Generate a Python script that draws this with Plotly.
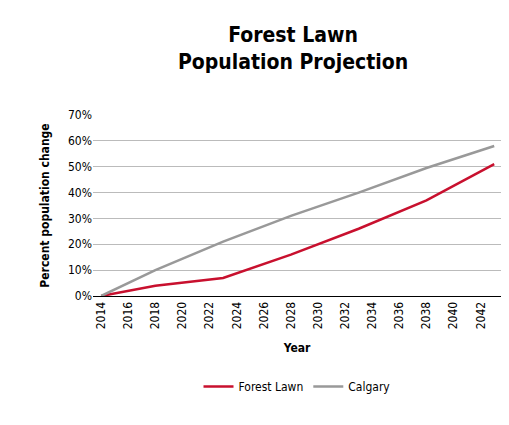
import plotly.graph_objects as go

years = [2014, 2018, 2023, 2028, 2033, 2038, 2043]
forest_lawn = [0.0, 0.04, 0.07, 0.16, 0.26, 0.37, 0.51]
calgary = [0.0, 0.10, 0.21, 0.31, 0.40, 0.495, 0.58]
tick_years = list(range(2014, 2043, 2))

fig = go.Figure()
fig.add_trace(go.Scatter(x=years, y=forest_lawn, name="Forest Lawn", mode="lines",
                         line=dict(color="#c8102e", width=2.5)))
fig.add_trace(go.Scatter(x=years, y=calgary, name="Calgary", mode="lines",
                         line=dict(color="#999999", width=2.5)))

fig.update_layout(
    width=509, height=425,
    paper_bgcolor="white", plot_bgcolor="white",
    font=dict(family="DejaVu Sans Condensed, DejaVu Sans", size=12, color="black"),
    title=dict(text="<b>Forest Lawn<br>Population Projection</b>", x=0.56, xanchor="center",
               y=0.92, yanchor="top", font=dict(size=21)),
    margin=dict(l=85, r=16, t=107, b=137),
    xaxis=dict(range=[2013.4, 2043.5], tickvals=tick_years, tickangle=-90,
               title=dict(text="<b>Year</b>", font=dict(size=12)),
               showgrid=False, showline=True, linecolor="black", ticks=""),
    yaxis=dict(range=[0, 0.7], dtick=0.1, tickformat=".0%",
               title=dict(text="<b>Percent population change</b>", font=dict(size=12)),
               gridcolor="#bbbbbb", zeroline=False, ticks=""),
    legend=dict(orientation="h", x=0.5, xanchor="center", y=-0.42, yanchor="top",
                font=dict(size=12)),
)

fig.write_html("out.html")
